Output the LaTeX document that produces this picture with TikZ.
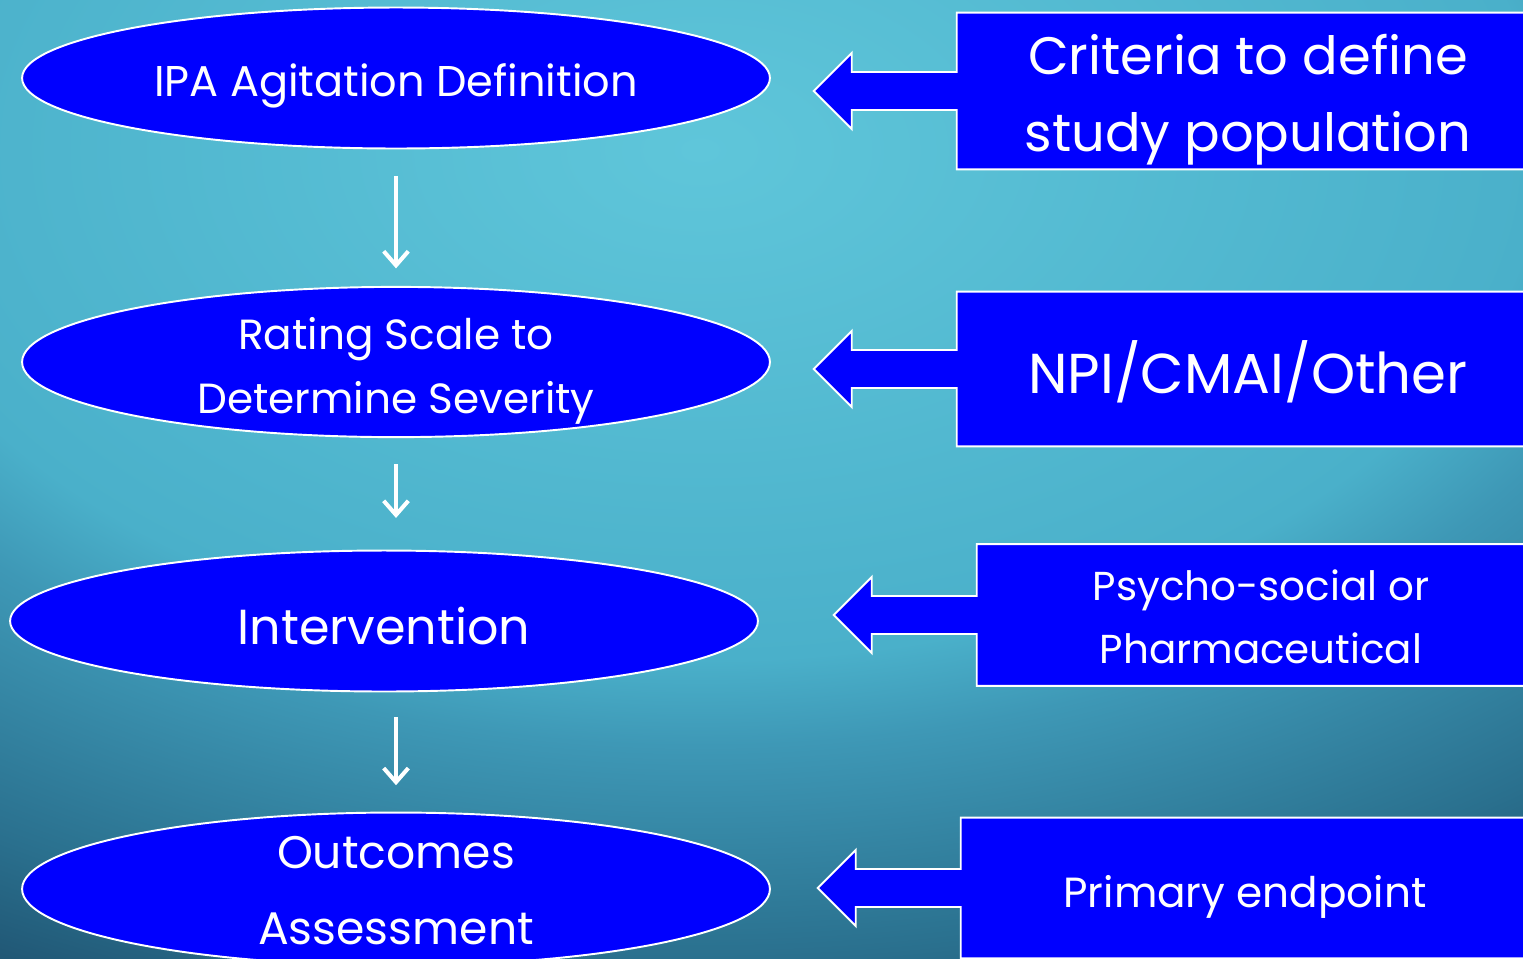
\documentclass[tikz,border=0pt]{standalone}
\usepackage{fontspec}
\setmainfont{Poppins}
\usepackage{xcolor}
\usetikzlibrary{arrows.meta}
\usetikzlibrary{shapes.geometric}
\usetikzlibrary{calc}
\definecolor{glowa}{RGB}{95,198,218}
\definecolor{glowb}{RGB}{74,176,202}
\definecolor{glowc}{RGB}{62,152,182}
\definecolor{glowd}{RGB}{42,112,142}
\definecolor{glowe}{RGB}{33,88,118}
\definecolor{glowf}{RGB}{28,68,100}
\definecolor{boxblue}{RGB}{0,0,255}
\pgfdeclareradialshading{slideglow}{\pgfpoint{0bp}{0bp}}{color(0bp)=(glowa); color(12.5bp)=(glowb);
	color(14.6bp)=(glowc); color(19.8bp)=(glowd); color(22.3bp)=(glowe); color(25bp)=(glowf); color(50bp)=(glowf)}
% lower a line of text inside its box
\newcommand{\nudge}[2]{\raisebox{-#1}[\height][\depth]{#2}}

\begin{document}
\begin{tikzpicture}[x=0.02cm, y=-0.02cm,
		oval/.style={ellipse, draw=white, line width=1.1pt, fill=boxblue, text=white, inner sep=0pt,
			minimum width=14.96cm, minimum height=2.82cm, align=center},
		sidebox/.style={rectangle, fill=boxblue, text=white, inner sep=0pt, align=center},
		downarrow/.style={draw=white, line width=2.3pt, -{Straight Barb[length=8pt, width=14pt]}},
		callout/.style={draw=white, line width=1.1pt}]
				% background
				\useasboundingbox (0,0) rectangle (1523,958);
				\clip (0,0) rectangle (1523,958);
				\fill[glowf] (0,0) rectangle (1523,958);
				\shade[shading=slideglow] (700,150) ellipse [x radius=1680, y radius=1020];
				
				% draw ovals
				\node[oval, font=\fontsize{24.5}{36}\selectfont] (ipa) at (396,78) {\nudge{4.5pt}{IPA Agitation Definition}};
				\node[oval, font=\fontsize{24}{36}\selectfont] (rating) at (396,362) {\nudge{5pt}{Rating Scale to}\\\nudge{5pt}{Determine Severity}};
				\node[oval, font=\fontsize{28}{40}\selectfont] (interv) at (384,621) {\nudge{2.8pt}{Intervention}};
				\node[oval, minimum height=2.76cm, font=\fontsize{26}{43}\selectfont] (outcome) at (396,889) {\nudge{1pt}{Outcomes}\\\nudge{1pt}{Assessment}};
				
				% add arrows
				\draw[downarrow, shorten <=15pt, shorten >=10pt] (ipa.south) -- (rating.north);
				\draw[downarrow, shorten <=15pt, shorten >=18pt] (rating.south) -- (rating.south |- interv.north);
				\draw[downarrow, shorten <=14pt, shorten >=15pt] (outcome.north |- interv.south) -- (outcome.north);
				
				% draw boxes
				\node[sidebox, minimum width=11.64cm, minimum height=3.12cm, font=\fontsize{30}{44}\selectfont] (crit) at (1248,91) {\nudge{5pt}{Criteria to define}\\\nudge{5pt}{study population}};
				\node[sidebox, minimum width=11.64cm, minimum height=3.08cm, font=\fontsize{32}{44}\selectfont] (npi) at (1248,369) {\nudge{1.7pt}{NPI/CMAI/Other}};
				\node[sidebox, minimum width=11.36cm, minimum height=2.82cm, font=\fontsize{23}{36}\selectfont] (psy) at (1261,615) {\nudge{1pt}{Psycho-social or}\\\nudge{1pt}{Pharmaceutical}};
				\node[sidebox, minimum width=11.36cm, minimum height=2.8cm, font=\fontsize{24}{36}\selectfont] (prim) at (1245,888) {\nudge{5pt}{Primary endpoint}};
				
				% add block arrows
				\foreach \b in {crit,npi,psy,prim}{
					\fill[boxblue] ($(\b.west)+(2,-19)$) -- ++(-107,0) -- ++(0,-19) -- ($(\b.west)+(-143,0)$)
						-- ($(\b.west)+(-105,38)$) -- ++(0,-19) -- ($(\b.west)+(2,19)$) -- cycle;
					\draw[callout] (\b.north east) -- (\b.north west) -- ($(\b.west)+(0,-19)$) -- ++(-105,0) -- ++(0,-19)
						-- ($(\b.west)+(-143,0)$) -- ($(\b.west)+(-105,38)$) -- ++(0,-19) -- ($(\b.west)+(0,19)$)
						-- (\b.south west) -- (\b.south east);
				}
			\end{tikzpicture}
\end{document}
